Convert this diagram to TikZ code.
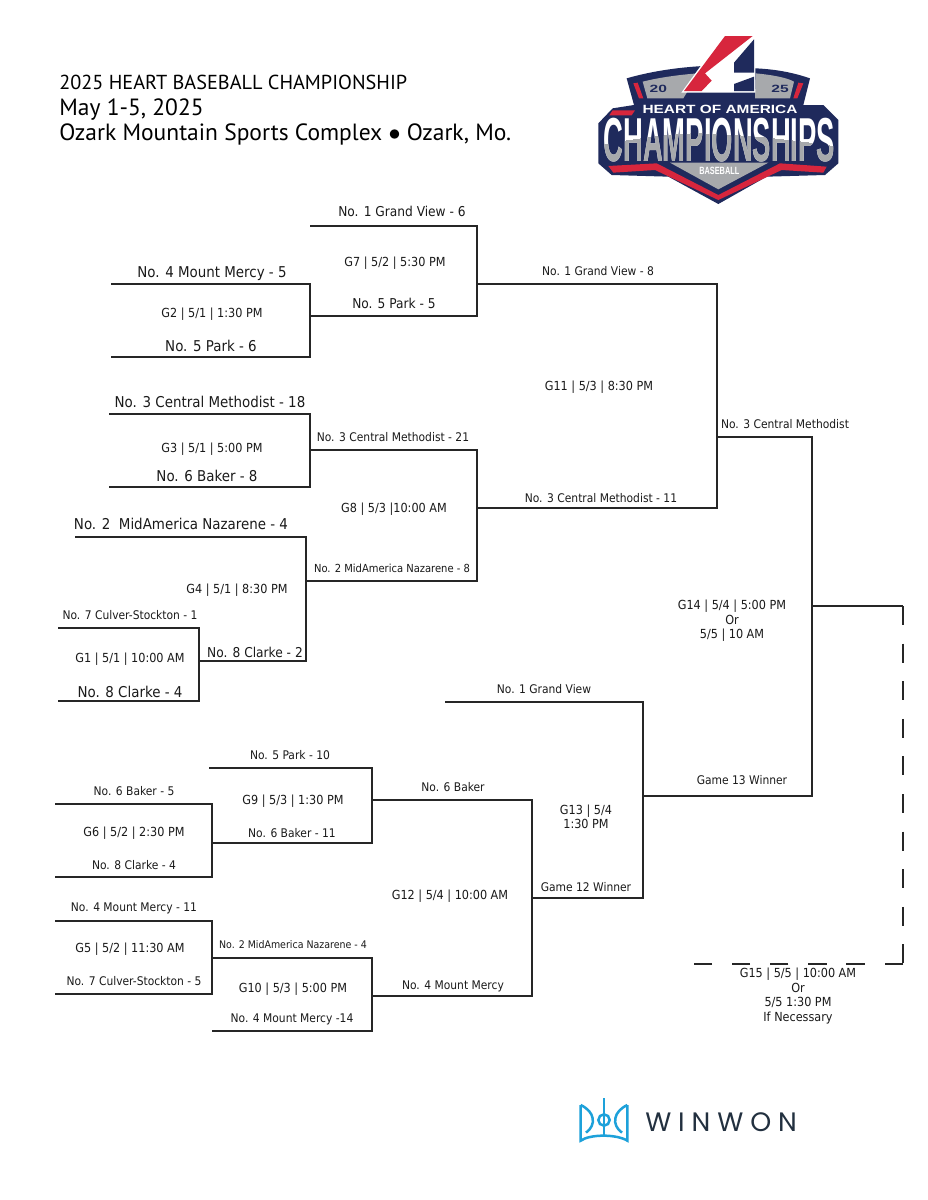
\documentclass[tikz,border=0pt]{standalone}
\usepackage{fontspec}
\setmainfont{DejaVu Sans Condensed}
\newfontfamily\titlefont{PT Sans}
\newfontfamily\logofont{Liberation Sans}
\newfontfamily\winfont[LetterSpace=26]{Poppins}
\definecolor{logonavy}{HTML}{1F2A5C}
\definecolor{logored}{HTML}{D7263D}
\definecolor{logogray}{HTML}{A7A9AC}
\definecolor{winblue}{HTML}{1DA1DA}
\definecolor{windark}{HTML}{22303F}
\definecolor{labelgray}{HTML}{1A1A1A}
\tikzstyle{small label}=[
    font = \fontsize{7.15}{8.7}\selectfont,
    text = labelgray,
    align = center,
    inner sep = 0pt
]
\tikzstyle{game label}=[
    small label,
    font = \fontsize{7.5}{8.7}\selectfont
]
\tikzstyle{mid label}=[
    small label,
    font = \fontsize{8.15}{10}\selectfont
]
\tikzstyle{big label}=[
    small label,
    font = \fontsize{8.95}{10}\selectfont
]
\tikzstyle{title}=[
    anchor = base west,
    inner sep = 0pt
]
\tikzstyle{line}=[
    draw = black!85,
    line width = 1.1pt
]

\begin{document}
\begin{tikzpicture}[x=0.6pt, y=-0.6pt]
    \useasboundingbox (0,0) rectangle (927,1200);
    \fill[white] (0,0) rectangle (927,1200);

    % heading
    \node[title, font=\titlefont\fontsize{12.15}{14}\selectfont] (head1) at (59,89) {2025 HEART BASEBALL CHAMPIONSHIP};
    \node[title, font=\titlefont\fontsize{14.1}{16}\selectfont] (head2) at (59,115) {May 1-5, 2025};
    \node[title, font=\titlefont\fontsize{14.1}{16}\selectfont] (head3) at (59,140) {Ozark Mountain Sports Complex $\bullet$ Ozark, Mo.};

    % championship logo
    \begin{scope}[shift={(590,30)}, x=0.2pt, y=-0.2pt]
        \fill[logonavy] (110,145) .. controls (190,122) and (270,112) .. (340,108) -- (497,115)
            .. controls (560,118) and (610,128) .. (660,145) -- (640,225) -- (700,225) -- (745,270)
            -- (745,400) -- (705,435) -- (530,440) -- (385,522) -- (235,440) -- (65,435)
            -- (25,400) -- (25,280) -- (68,235) -- (132,225) -- cycle;
        \fill[logogray] (158,155) .. controls (210,142) and (270,134) .. (325,130) -- (280,205) -- (172,205) -- cycle;
        \fill[logogray] (497,130) .. controls (540,134) and (590,142) .. (612,155) -- (600,205) -- (495,205) -- cycle;
        \fill[logored] (130,160) -- (143,158) -- (160,205) -- (147,205) -- cycle;
        \fill[logored] (625,158) -- (640,160) -- (622,205) -- (610,205) -- cycle;
        \fill[logored] (68,241) -- (135,241) -- (125,256) -- (58,256) -- cycle;
        \fill[logored] (55,408) -- (200,400) -- (385,495) -- (570,400) -- (710,410) -- (700,428)
            -- (575,420) -- (385,510) -- (195,420) -- (70,428) -- cycle;
        \fill[logogray] (240,398) -- (535,398) -- (385,478) -- cycle;
        \fill[white] (400,14) -- (496,14) -- (496,188) -- (274,188) -- cycle;
        \fill[logored] (405,18) -- (488,18) -- (345,130) -- (365,152) -- (335,183) -- (282,183) -- cycle;
        \fill[logonavy] (492,28) -- (492,128) -- (432,128) -- (432,98) -- cycle;
        \fill[logonavy] (492,140) -- (492,183) -- (432,183) -- (432,162) -- cycle;
        \node[text=logonavy, inner sep=0pt] (logo20) at (205,178) {\resizebox{10.4pt}{4.4pt}{\logofont\bfseries 20}};
        \node[text=logonavy, inner sep=0pt] (logo25) at (570,178) {\resizebox{10.4pt}{4.4pt}{\logofont\bfseries 25}};
        \node[text=white, inner sep=0pt] (logoheart) at (390,238) {\resizebox{93pt}{5pt}{\logofont\bfseries HEART OF AMERICA}};
        \node[text=white, inner sep=0pt] (logochamp) at (388,330) {\resizebox{139pt}{26pt}{\logofont\bfseries CHAMPIONSHIPS}};
        \begin{scope}
            \clip (30,345) .. controls (150,320) and (300,305) .. (350,310) .. controls (480,315) and (620,330) .. (745,350) -- (745,400) -- (30,400) -- cycle;
            \node[text=logogray, inner sep=0pt] (logochampb) at (388,330) {\resizebox{139pt}{26pt}{\logofont\bfseries CHAMPIONSHIPS}};
        \end{scope}
        \node[text=white, inner sep=0pt] (logobase) at (388,422) {\resizebox{24pt}{4.4pt}{\logofont\bfseries BASEBALL}};
    \end{scope}

    % winwon logo
    \begin{scope}[shift={(570,1090)}, x=0.2pt, y=-0.2pt, draw=winblue, line width=1.5pt]
        \draw (32,45) -- (32,152) .. controls (60,132) and (140,132) .. (172,152) -- (172,45);
        \draw (32,45) .. controls (75,65) and (80,105) .. (48,128);
        \draw (172,45) .. controls (129,65) and (124,105) .. (156,128);
        \draw (102,25) -- (102,136);
        \draw (102,90) circle (17);
        \node[font=\winfont\fontsize{16}{17}\selectfont, text=windark, anchor=base west, inner sep=0pt] (winname) at (222,125) {WINWON};
    \end{scope}

    % game 7 and game 2
    \node[mid label] (t1) at (402,211) {No. 1 Grand View - 6};
    \node[game label] (g7) at (395,263) {G7 | 5/2 | 5:30 PM};
    \node[mid label] (t2) at (394,303) {No. 5 Park - 5};
    \node[big label] (t3) at (212,274) {No. 4 Mount Mercy - 5};
    \node[game label] (g2) at (212,314) {G2 | 5/1 | 1:30 PM};
    \node[big label] (t4) at (211,346) {No. 5 Park - 6};
    % game 3, 8, 4, 1
    \node[big label] (t5) at (210,402) {No. 3 Central Methodist - 18};
    \node[game label] (g3) at (212,449) {G3 | 5/1 | 5:00 PM};
    \node[big label] (t6) at (207,476) {No. 6 Baker - 8};
    \node[small label] (t7) at (393,437) {No. 3 Central Methodist - 21};
    \node[game label] (g8) at (394,509) {G8 | 5/3 |10:00 AM};
    \node[small label, font=\fontsize{6.65}{8}\selectfont] (t8) at (392,568) {No. 2 MidAmerica Nazarene - 8};
    \node[big label] (t9) at (181,524) {No. 2 \ MidAmerica Nazarene - 4};
    \node[game label] (g4) at (237,590) {G4 | 5/1 | 8:30 PM};
    \node[mid label] (t10) at (255,652) {No. 8 Clarke - 2};
    \node[small label] (t11) at (130,615) {No. 7 Culver-Stockton - 1};
    \node[game label] (g1) at (130,659) {G1 | 5/1 | 10:00 AM};
    \node[big label] (t12) at (130,692) {No. 8 Clarke - 4};
    % game 11 and 14
    \node[small label] (t13) at (598,271) {No. 1 Grand View - 8};
    \node[game label] (g11) at (599,387) {G11 | 5/3 | 8:30 PM};
    \node[small label] (t14) at (601,498) {No. 3 Central Methodist - 11};
    \node[small label] (t15) at (785,424) {No. 3 Central Methodist};
    \node[game label] (g14) at (732,621) {G14 | 5/4 | 5:00 PM\\Or\\5/5 | 10 AM};
    \node[small label] (t16) at (742,780) {Game 13 Winner};
    \node[game label] (g15) at (798,996) {G15 | 5/5 | 10:00 AM\\Or\\5/5 1:30 PM\\If Necessary};
    % lower bracket
    \node[small label] (t17) at (544,689) {No. 1 Grand View};
    \node[game label] (g13) at (586,817) {G13 | 5/4\\1:30 PM};
    \node[small label] (t18) at (586,887) {Game 12 Winner};
    \node[small label] (t19) at (453,787) {No. 6 Baker};
    \node[game label] (g12) at (450,896) {G12 | 5/4 | 10:00 AM};
    \node[small label] (t20) at (453,986) {No. 4 Mount Mercy};
    \node[small label] (t21) at (290,755) {No. 5 Park - 10};
    \node[game label] (g9) at (293,801) {G9 | 5/3 | 1:30 PM};
    \node[small label] (t22) at (292,833) {No. 6 Baker - 11};
    \node[small label] (t23) at (134,791) {No. 6 Baker - 5};
    \node[game label] (g6) at (134,833) {G6 | 5/2 | 2:30 PM};
    \node[small label] (t24) at (134,865) {No. 8 Clarke - 4};
    \node[small label] (t25) at (134,908) {No. 4 Mount Mercy - 11};
    \node[game label] (g5) at (130,949) {G5 | 5/2 | 11:30 AM};
    \node[small label] (t26) at (134,981) {No. 7 Culver-Stockton - 5};
    \node[small label, font=\fontsize{6.3}{8}\selectfont] (t27) at (293,945) {No. 2 MidAmerica Nazarene - 4};
    \node[game label] (g10) at (293,989) {G10 | 5/3 | 5:00 PM};
    \node[small label] (t28) at (292,1019) {No. 4 Mount Mercy -14};

    % bracket corners
    \coordinate (a1) at (310,226);  \coordinate (a2) at (477,226);
    \coordinate (a3) at (310,316);  \coordinate (a4) at (477,316);
    \coordinate (b1) at (111,284);  \coordinate (b2) at (310,284);
    \coordinate (b3) at (111,357);  \coordinate (b4) at (310,357);
    \coordinate (c1) at (109,414);  \coordinate (c2) at (310,414);
    \coordinate (c3) at (109,487);  \coordinate (c4) at (310,487);
    \coordinate (d1) at (310,450);  \coordinate (d2) at (477,450);
    \coordinate (d3) at (306,581);  \coordinate (d4) at (477,581);
    \coordinate (e1) at (75,537);   \coordinate (e2) at (306,537);
    \coordinate (e3) at (199,661);  \coordinate (e4) at (306,661);
    \coordinate (f1) at (58,628);   \coordinate (f2) at (199,628);
    \coordinate (f3) at (58,701);   \coordinate (f4) at (199,701);
    \coordinate (h1) at (477,284);  \coordinate (h2) at (717,284);
    \coordinate (h3) at (477,508);  \coordinate (h4) at (717,508);
    \coordinate (i1) at (717,437);  \coordinate (i2) at (812,437);
    \coordinate (i3) at (812,796);  \coordinate (i4) at (643,796);
    \coordinate (j1) at (812,606);  \coordinate (j2) at (903,606);
    \coordinate (j3) at (903,964);  \coordinate (j4) at (693,964);
    \coordinate (k1) at (445,702);  \coordinate (k2) at (643,702);
    \coordinate (k3) at (643,898);  \coordinate (k4) at (532,898);
    \coordinate (l1) at (372,800);  \coordinate (l2) at (532,800);
    \coordinate (l3) at (532,996);  \coordinate (l4) at (372,996);
    \coordinate (m1) at (209,768);  \coordinate (m2) at (372,768);
    \coordinate (m3) at (372,843);  \coordinate (m4) at (212,843);
    \coordinate (n1) at (55,804);   \coordinate (n2) at (212,804);
    \coordinate (n3) at (212,877);  \coordinate (n4) at (55,877);
    \coordinate (o1) at (55,921);   \coordinate (o2) at (212,921);
    \coordinate (o3) at (212,994);  \coordinate (o4) at (55,994);
    \coordinate (q1) at (212,958);  \coordinate (q2) at (372,958);
    \coordinate (q3) at (372,1031); \coordinate (q4) at (212,1031);

    % connectors
    \draw[line] (a1) -- (a2) -- (a4) -- (a3);
    \draw[line] (b1) -- (b2) -- (b4) -- (b3);
    \draw[line] (c1) -- (c2) -- (c4) -- (c3);
    \draw[line] (d1) -- (d2) -- (d4) -- (d3);
    \draw[line] (e1) -- (e2) -- (e4) -- (e3);
    \draw[line] (f1) -- (f2) -- (f4) -- (f3);
    \draw[line] (h1) -- (h2) -- (h4) -- (h3);
    \draw[line] (i1) -- (i2) -- (i3) -- (i4);
    \draw[line] (j1) -- (j2);
    \draw[line, dash pattern=on 11.4pt off 11.16pt] (j2) -- (j3);
    \draw[line, dash pattern=on 11.1pt off 11.82pt] (j3) -- (j4);
    \draw[line] (k1) -- (k2) -- (k3) -- (k4);
    \draw[line] (l1) -- (l2) -- (l3) -- (l4);
    \draw[line] (m1) -- (m2) -- (m3) -- (m4);
    \draw[line] (n1) -- (n2) -- (n3) -- (n4);
    \draw[line] (o1) -- (o2) -- (o3) -- (o4);
    \draw[line] (q1) -- (q2) -- (q3) -- (q4);
\end{tikzpicture}
\end{document}
